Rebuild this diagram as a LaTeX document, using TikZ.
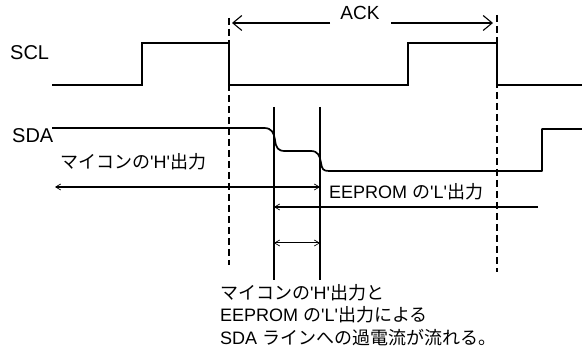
\documentclass[tikz,border=0pt]{standalone}
\usepackage{fontspec}
\setmainfont{Liberation Sans}
\newfontfamily\jp{Noto Sans CJK JP}
\usetikzlibrary{arrows.meta,positioning}
\newcommand{\q}{\textquotesingle}

\begin{document}
\begin{tikzpicture}[x=1pt,y=-1pt,
    sig/.style={line width=1.1pt},
    sdasig/.style={line width=1.7pt, line join=round},
    guide/.style={line width=1.3pt, dash pattern=on 7pt off 4pt},
    marker/.style={line width=1.8pt},
    ackarrow/.style={line width=1.1pt, -{Straight Barb[length=9pt,width=15pt,line width=1.1pt]}},
    flow/.style={line width=1.7pt, >={Straight Barb[length=5pt,width=6pt,line width=0.7pt]}},
    thinflow/.style={line width=1pt, >={Straight Barb[length=5pt,width=6pt,line width=0.7pt]}},
    siglbl/.style={font=\fontsize{20}{24}\selectfont, inner sep=0pt},
    txt/.style={font=\fontsize{18}{22.5}\selectfont, inner sep=0pt, align=left}]
    \useasboundingbox (0,0) rectangle (582,352);
    % Signal names
    \node[siglbl, anchor=west] (scl) at (10,53) {SCL};
    \node[siglbl, anchor=west] (sda) at (12,136) {SDA};
    % SCL clock
    \draw[sig] (52,85) -- (142,85) -- (142,43) -- (229,43) -- (229,85)
        -- (408,85) -- (408,43) -- (497,43) -- (497,85) -- (582,85);
    % SDA data line
    \draw[sdasig] (52,128) -- (264,128) .. controls (272,128) and (274,133) .. (275,140)
        .. controls (276,148) and (278,151) .. (285,151) -- (311,151)
        .. controls (318,151) and (320,156) .. (321,163)
        .. controls (322,169) and (323,171) .. (329,171) -- (542,171)
        -- (542,129) -- (582,129);
    % ACK window
    \coordinate (d1top) at (229,18);
    \coordinate (d1bot) at (229,265);
    \coordinate (d2top) at (497,15);
    \coordinate (d2bot) at (497,272);
    \draw[guide] (d1top) -- (d1bot);
    \draw[guide] (d2top) -- (d2bot);
    \node[siglbl, font=\fontsize{19}{23}\selectfont] (ack) at (360,12.5) {ACK};
    \coordinate (ackgapL) at (330,23);
    \coordinate (ackgapR) at (391,23);
    \draw[ackarrow, shorten >=3pt] (ackgapL) -- (d1top |- ackgapL);
    \draw[ackarrow, shorten >=4pt] (ackgapR) -- (d2top |- ackgapR);
    % Overlap markers
    \coordinate (v1top) at (274,107);
    \coordinate (v1bot) at (274,280);
    \coordinate (v2top) at (320,107);
    \coordinate (v2bot) at (320,280);
    \draw[marker] (v1top) -- (v1bot);
    \draw[marker] (v2top) -- (v2bot);
    % Driver outputs
    \node[txt, anchor=west] (mcuout) at (60,162) {{\jp マイコンの}\q H\q{\jp 出力}};
    \coordinate (mcuL) at (55,187);
    \draw[flow, <->] (mcuL) -- (v2top |- mcuL);
    \node[txt, anchor=west] (romout) at (329,192) {EEPROM {\jp の}\q L\q{\jp 出力}};
    \coordinate (romR) at (538,207);
    \draw[flow, ->] (romR) -- (v1top |- romR);
    \coordinate (overlap) at (297,243);
    \draw[thinflow, <->] (v1top |- overlap) -- (v2top |- overlap);
    % Note
    \node[txt, anchor=north west] (note) at (220,284)
        {{\jp マイコンの}\q H\q{\jp 出力と}\\
         EEPROM {\jp の}\q L\q{\jp 出力による}\\
         SDA {\jp ラインへの過電流が流れる。}};
\end{tikzpicture}
\end{document}
